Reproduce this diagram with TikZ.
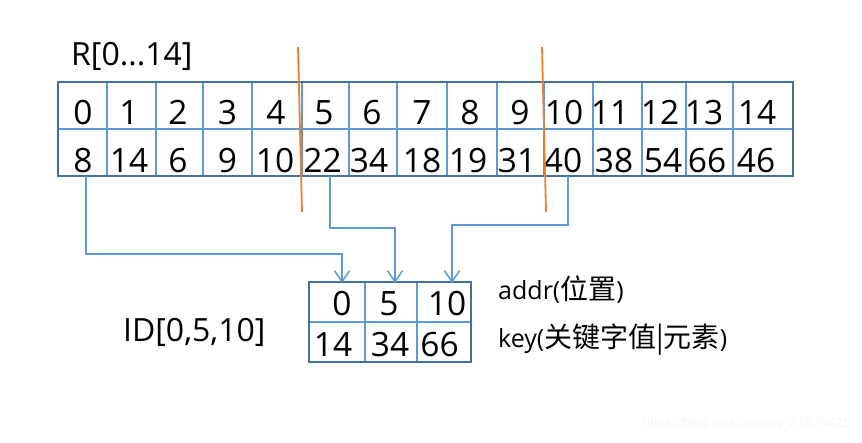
\documentclass[tikz,border=0pt]{standalone}
\usepackage{fontspec}
\setmainfont{Open Sans}
\newfontfamily\cjk[Scale=1.12]{Noto Sans CJK SC}
\newfontfamily\wmfont{Liberation Sans}
\usetikzlibrary{arrows.meta}
\definecolor{outerblue}{HTML}{41719C}
\definecolor{innerblue}{HTML}{5B9BD5}
\definecolor{cutorange}{HTML}{ED7D31}
\tikzset{
  num/.style={inner sep=0pt, anchor=base, font=\fontsize{33.5}{36}\selectfont},
  lbl/.style={inner sep=0pt, anchor=base west, font=\fontsize{32}{36}\selectfont},
  side/.style={inner sep=0pt, anchor=base west, font=\fontsize{25}{28}\selectfont},
  innerline/.style={innerblue, line width=2pt},
  outerline/.style={outerblue, line width=2pt},
  conn/.style={innerblue, line width=1.5pt, -{Straight Barb[length=11pt,width=15pt,line width=1.5pt]}},
  cut/.style={cutorange, line width=1.8pt},
}
\begin{document}
\begin{tikzpicture}[x=1pt,y=-1pt]
\useasboundingbox (0,0) rectangle (862,442);
% big table lines
\draw[innerline] (58,129) -- (793,129);
\foreach \x in {107,156,203,252,302,349,397,447,497,544,593,642,686,733}
  \draw[innerline] (\x,82) -- (\x,176);
\draw[outerline] (58,82) rectangle (793,176);
% top row (positions)
\foreach \i/\x in {0/83,1/129,2/178,3/227.5,4/276,5/324,6/372,7/422,8/470,9/520,10/564,11/610,12/660,13/704,14/757}
  \node[num] (r\i) at (\x,124) {\i};
% bottom row (keys)
\foreach \i/\x/\t in {0/83/8,1/129/14,2/178/6,3/227.5/9,4/275/10,5/322.5/22,6/369/34,7/422/18,8/468/19,9/517/31,10/563/40,11/614/38,12/663/54,13/707/66,14/756/46}
  \node[num] (k\i) at (\x,172) {\t};
% title
\node[lbl] (title) at (71,65) {R[0...14]};
% index table
\draw[innerline] (309,322) -- (471,322);
\draw[innerline] (365,282) -- (365,362);
\draw[innerline] (417,282) -- (417,362);
\draw[outerline] (309,282) rectangle (471,362);
\node[num] (ia0) at (342,315) {0};
\node[num] (ia1) at (389,315) {5};
\node[num] (ia2) at (447,315) {10};
\node[num] (ik0) at (333,356) {14};
\node[num] (ik1) at (390,356) {34};
\node[num] (ik2) at (439.5,356) {66};
\node[lbl] (idlbl) at (123,341) {ID[0,5,10]};
\node[side] (addr) at (498,299) {addr({\cjk 位置})};
\node[side] (key) at (498,347) {key({\cjk 关键字值|元素})};
% cut lines
\coordinate (c1a) at (298,47); \coordinate (c1b) at (302,212);
\coordinate (c2a) at (542,47); \coordinate (c2b) at (546,212);
\draw[cut] (c1a) -- (c1b);
\draw[cut] (c2a) -- (c2b);
% connectors
\coordinate (p8) at (86,176);
\coordinate (p22) at (330,176);
\coordinate (p40) at (568,176);
\coordinate (a0) at (342,283);
\coordinate (a5) at (395,283);
\coordinate (a10) at (452,283);
\draw[conn] (p8) -- (p8 |- 0,254) -| (a0);
\draw[conn] (p22) -- (p22 |- 0,228) -| (a5);
\draw[conn] (p40) -- (p40 |- 0,225) -| (a10);
% watermark
\node[inner sep=0pt, anchor=base east, text=black!4, font=\wmfont\fontsize{13.5}{15}\selectfont] (wm) at (850,427) {https://blog.csdn.net/qq\_27870421};
\end{tikzpicture}
\end{document}
